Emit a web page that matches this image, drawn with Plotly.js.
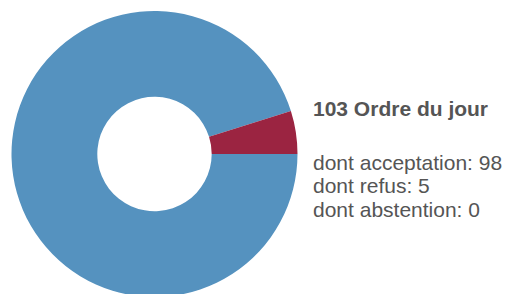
<!DOCTYPE html>
<html>
<head>
<meta charset="utf-8">
<script src="https://cdn.plot.ly/plotly-3.0.1.min.js"></script>
<style>
html,body{margin:0;padding:0;overflow:hidden;background:#fff;width:508px;height:294px;}
#chart{width:508px;height:310px;}
</style>
</head>
<body>
<div id="chart"></div>
<script>
// Data
const labels = ["dont acceptation", "dont refus", "dont abstention"];
const values = [98, 5, 0];
const colors = ["#5592bf", "#9b2441", "#999999"];
const titleText = "103 Ordre du jour";
const lineTexts = ["dont acceptation: 98", "dont refus: 5", "dont abstention: 0"];

const W = 508, H = 310;
const cx = 154.5, cy = 154, R = 143;

const trace = {
  type: "pie",
  labels: labels,
  values: values,
  marker: {colors: colors, line: {width: 0}},
  hole: 0.4,
  sort: false,
  direction: "counterclockwise",
  rotation: 90,
  textinfo: "none",
  hoverinfo: "skip",
  showlegend: false,
  domain: {
    x: [(cx - R) / W, (cx + R) / W],
    y: [(H - (cy + R)) / H, (H - (cy - R)) / H]
  }
};

const textColor = "#555555";
const fontFam = "Liberation Sans, Arial, sans-serif";
const annY = [108.5, 162, 185.5, 209];
const annotations = [];
annotations.push({
  text: "<b>" + titleText + "</b>", xref: "paper", yref: "paper",
  x: 311 / W, y: (H - annY[0]) / H, xanchor: "left", yanchor: "middle",
  showarrow: false, font: {family: fontFam, size: 21, color: textColor}
});
lineTexts.forEach((t, i) => {
  annotations.push({
    text: t, xref: "paper", yref: "paper",
    x: 311 / W, y: (H - annY[i + 1]) / H, xanchor: "left", yanchor: "middle",
    showarrow: false, font: {family: fontFam, size: 21, color: textColor}
  });
});

const layout = {
  width: W, height: H,
  margin: {l: 0, r: 0, t: 0, b: 0},
  paper_bgcolor: "#ffffff",
  showlegend: false,
  annotations: annotations
};

Plotly.newPlot("chart", [trace], layout, {staticPlot: true, displayModeBar: false});
</script>
</body>
</html>
